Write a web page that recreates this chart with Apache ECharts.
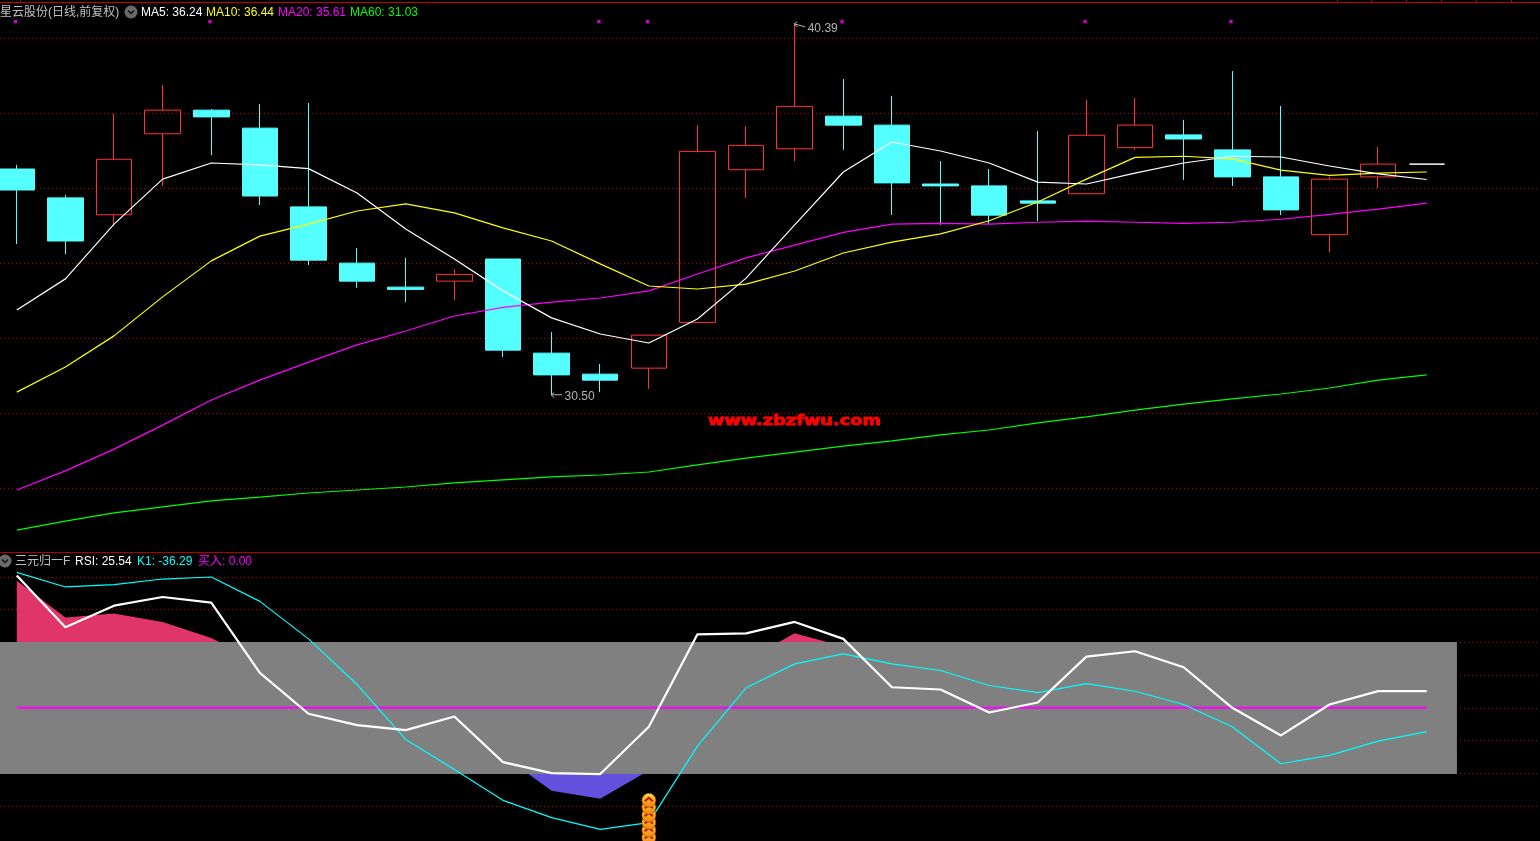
<!DOCTYPE html>
<html>
<head>
<meta charset="utf-8">
<title>星云股份</title>
<style>
  html, body { margin: 0; padding: 0; background: #000; overflow: hidden; }
  #chart { width: 1540px; height: 841px; }
</style>
<script src="https://cdn.jsdelivr.net/npm/echarts@6/dist/echarts.min.js"></script>
</head>
<body>
<div id="chart"></div>
<script>
// 日K: [open, close, low, high]
const kline = [
  [36.52, 35.96, 34.52, 36.63],
  [35.75, 34.60, 34.25, 35.83],
  [35.30, 36.78, 35.00, 37.99],
  [37.46, 38.09, 36.07, 38.76],
  [38.09, 37.91, 36.89, 38.12],
  [37.61, 35.80, 35.56, 38.25],
  [35.51, 34.09, 33.96, 38.28],
  [34.01, 33.53, 33.35, 34.41],
  [33.37, 33.31, 32.97, 34.15],
  [33.53, 33.71, 33.03, 33.85],
  [34.12, 31.69, 31.51, 34.12],
  [31.61, 31.03, 30.50, 32.17],
  [31.05, 30.89, 30.57, 31.32],
  [31.21, 32.09, 30.66, 32.09],
  [32.43, 36.99, 32.43, 37.69],
  [36.50, 37.15, 35.75, 37.67],
  [37.06, 38.19, 36.73, 40.39],
  [37.93, 37.69, 37.03, 38.92],
  [37.69, 36.15, 35.29, 38.47],
  [36.12, 36.07, 35.03, 36.73],
  [36.07, 35.29, 35.05, 36.52],
  [35.67, 35.61, 35.13, 37.53],
  [35.86, 37.42, 35.86, 38.36],
  [37.09, 37.69, 37.03, 38.41],
  [37.43, 37.32, 36.23, 37.83],
  [37.03, 36.31, 36.07, 39.13],
  [36.31, 35.43, 35.29, 38.20],
  [34.77, 36.25, 34.31, 36.31],
  [36.31, 36.65, 36.01, 37.11],
  [36.65, 36.65, 36.65, 36.65]
]
const ma5 = [32.76, 33.59, 35.05, 36.25, 36.68, 36.63, 36.53, 35.88, 34.92, 34.12, 33.27, 32.55, 32.12, 31.88, 32.52, 33.61, 35.03, 36.44, 37.24, 37.00, 36.68, 36.17, 36.12, 36.41, 36.68, 36.86, 36.84, 36.60, 36.39, 36.24]
const ma10 = [30.57, 31.24, 32.07, 33.11, 34.07, 34.73, 35.05, 35.40, 35.59, 35.35, 34.95, 34.60, 33.99, 33.40, 33.32, 33.45, 33.80, 34.28, 34.57, 34.79, 35.14, 35.64, 36.25, 36.83, 36.86, 36.79, 36.49, 36.35, 36.41, 36.44]
const ma20 = [27.96, 28.47, 29.05, 29.69, 30.36, 30.89, 31.37, 31.83, 32.20, 32.60, 32.83, 32.97, 33.08, 33.27, 33.72, 34.15, 34.49, 34.83, 35.05, 35.07, 35.05, 35.10, 35.13, 35.10, 35.07, 35.10, 35.18, 35.31, 35.45, 35.61]
const ma60 = [26.89, 27.13, 27.35, 27.51, 27.67, 27.77, 27.88, 27.96, 28.04, 28.15, 28.23, 28.31, 28.36, 28.44, 28.63, 28.81, 28.97, 29.13, 29.27, 29.43, 29.56, 29.75, 29.91, 30.09, 30.25, 30.39, 30.52, 30.68, 30.89, 31.03]

// 顶部信号点
const signalDays = [0, 4, 12, 13, 17, 22, 25]
const signalLevel = 40.45
// 最高/最低价标注: [day, price]
const priceNotes = [[16, 40.39], [11, 30.50]]

// 副图 三元归一
const rsi = [202.1, 122.9, 155.9, 169.2, 160.5, 53.4, -9.1, -26.5, -34.1, -13.3, -82.9, -99.7, -101.2, -29, 112.2, 113.7, 131.1, 105.2, 31.4, 27.9, -7.2, 8.1, 78.2, 86.3, 61.9, 0, -42.2, 5, 25.54, 25.54]
const k1 = [206.7, 184.5, 188, 196.6, 199.7, 162.5, 105.2, 35.5, -48.3, -94.1, -141.3, -167.7, -185.5, -175.3, -58.5, 30.5, 67.1, 82.3, 67.1, 56.9, 34, 23.3, 37, 25.3, 5, -29, -85.4, -72.7, -50.9, -36.29]
const buy = [0, 0, 0, 0, 0, 0, 0, 0, 0, 0, 0, 0, 0, 0, 0, 0, 0, 0, 0, 0, 0, 0, 0, 0, 0, 0, 0, 0, 0, 0]
const overbought = [194.1, 137.7, 143.8, 131.1, 106.7, 69, null, null, null, null, null, null, null, null, null, 72.6, 113.7, 93.4, null, null, null, null, null, null, null, null, null, null, null, null]
const oversold = [null, null, null, null, null, null, null, null, null, null, -72.7, -126.5, -138.7, -95.6, null, null, null, null, null, null, null, null, null, null, null, null, null, null, null, null]
const bandDays = [-0.345, 29.62]
const bandLevels = [100.6, -101]
// 买入图标叠在第 13 根
const coinDay = 13
const coinLevels = [-141.3, -152, -164, -175, -187, -198]

const header = [
  ['星云股份(日线,前复权)', 0, 12.5, '#c0c0c0'],
  ['MA5: 36.24', 141, 12.5, '#ffffff'],
  ['MA10: 36.44', 206, 12.5, '#ffff00'],
  ['MA20: 35.61', 278, 12.5, '#ff00ff'],
  ['MA60: 31.03', 350, 12.5, '#00ff00'],
  ['三元归一F', 15, 561.5, '#c0c0c0'],
  ['RSI: 25.54', 75, 561.5, '#ffffff'],
  ['K1: -36.29', 137, 561.5, '#00ffff'],
  ['买入: 0.00', 198, 561.5, '#ff00ff']
]
const topTicks = [20, 1337, 1371, 1406, 1441, 1476, 1511]

const FONT = '12px "Liberation Sans", "Noto Sans CJK SC", sans-serif'
const GRID_RED = '#c00000'

function withDay(values) {
  return values.map((v, i) => [i, v])
}

function line(name, values, color, xIdx, width, z) {
  return {
    name,
    type: 'line',
    xAxisIndex: xIdx,
    yAxisIndex: xIdx,
    data: withDay(values),
    symbol: 'none',
    z: z || 3,
    lineStyle: { color, width: width || 1.2 },
    silent: true
  }
}

function area(name, values, color, origin) {
  return {
    name,
    type: 'line',
    xAxisIndex: 1,
    yAxisIndex: 1,
    data: withDay(values),
    symbol: 'none',
    z: 2,
    lineStyle: { width: 0 },
    areaStyle: { color, opacity: 1, origin },
    silent: true
  }
}

function renderNote(params, api) {
  const p = api.coord([api.value(0), api.value(1)])
  const drop = params.dataIndex === 0 ? 3 : 0
  const x = p[0] - 0.5
  const y = p[1]
  const style = { stroke: '#b4b4b4', fill: 'none', lineWidth: 1 }
  return {
    type: 'group',
    children: [
      { type: 'polyline', shape: { points: [[x, y], [x + 11, y + drop]] }, style },
      { type: 'polyline', shape: { points: [[x + 3, y - 2], [x, y], [x + 3, y + 3]] }, style },
      {
        type: 'text',
        x: x + 13.5,
        y: y + drop + 1.5,
        style: {
          text: api.value(1).toFixed(2),
          fill: '#b4b4b4',
          font: FONT,
          textVerticalAlign: 'middle'
        }
      }
    ]
  }
}

function renderCoin(params, api) {
  const p = api.coord([api.value(0), api.value(1)])
  const cx = p[0]
  const cy = p[1]
  return {
    type: 'group',
    children: [
      {
        type: 'circle',
        shape: { cx, cy, r: 7 },
        style: {
          fill: {
            type: 'linear', x: 0, y: 0, x2: 0, y2: 1,
            colorStops: [
              { offset: 0, color: '#ffe24a' },
              { offset: 0.55, color: '#ffa51e' },
              { offset: 1, color: '#f07f10' }
            ]
          },
          stroke: '#7a4a00',
          lineWidth: 0.5
        }
      },
      {
        type: 'polyline',
        shape: { points: [[cx - 4, cy + 1], [cx, cy - 2.5], [cx + 4, cy + 1]] },
        style: { stroke: '#c01010', fill: 'none', lineWidth: 2 }
      }
    ]
  }
}

function headerGraphics() {
  const out = header.map(([text, x, y, color]) => ({
    type: 'text',
    x,
    y,
    z: 20,
    silent: true,
    style: { text, fill: color, font: FONT, textVerticalAlign: 'middle' }
  }))
  const chevrons = [[131, 12], [5, 561]]
  chevrons.forEach(([cx, cy]) => {
    out.push({
      type: 'circle',
      z: 20,
      silent: true,
      shape: { cx, cy, r: 6.5 },
      style: { fill: '#6a6a6a' }
    })
    out.push({
      type: 'polyline',
      z: 21,
      silent: true,
      shape: { points: [[cx - 3, cy - 1.5], [cx, cy + 1.5], [cx + 3, cy - 1.5]] },
      style: { stroke: '#111', fill: 'none', lineWidth: 1.5 }
    })
  })
  // 面板分隔线
  out.push({ type: 'rect', z: 20, silent: true, shape: { x: 0, y: 2, width: 1540, height: 1 }, style: { fill: '#c00000' } })
  out.push({ type: 'rect', z: 20, silent: true, shape: { x: 0, y: 552, width: 1540, height: 1 }, style: { fill: '#b00000' } })
  topTicks.forEach((x) => {
    out.push({ type: 'rect', z: 20, silent: true, shape: { x, y: 0, width: 1, height: 2 }, style: { fill: '#c00000' } })
  })
  out.push({
    type: 'text',
    x: 708,
    y: 421,
    scaleX: 1.268,
    z: 20,
    silent: true,
    style: {
      text: 'www.zbzfwu.com',
      fill: '#ff0000',
      stroke: '#ff0000',
      lineWidth: 0.8,
      font: 'bold 14px "DejaVu Sans", sans-serif',
      textVerticalAlign: 'middle'
    }
  })
  return out
}

const xRange = { min: -0.345, max: 31.329 }
const chart = echarts.init(document.getElementById('chart'))
chart.setOption({
  backgroundColor: '#000',
  animation: false,
  graphic: { elements: headerGraphics() },
  // 主图 75px 一格(2 元), 副图 32.75px 一格(50)
  grid: [
    { left: 0, width: 1540, top: 0, height: 563.5 },
    { left: 0, width: 1540, top: 544.05, height: 294.75 }
  ],
  xAxis: [
    { type: 'value', gridIndex: 0, show: false, splitLine: { show: false }, ...xRange },
    { type: 'value', gridIndex: 1, show: false, splitLine: { show: false }, ...xRange }
  ],
  yAxis: [0, 1].map((i) => ({
    type: 'value',
    gridIndex: i,
    min: i === 0 ? 26 : -200,
    max: i === 0 ? 41.0267 : 250,
    interval: i === 0 ? 2 : 50,
    axisLine: { show: false },
    axisTick: { show: false },
    axisLabel: { show: false },
    splitLine: {
      show: true,
      showMinLine: false,
      showMaxLine: false,
      lineStyle: { color: GRID_RED, width: 1, type: [1, 3] }
    }
  })),
  series: [
    {
      name: 'K',
      type: 'candlestick',
      xAxisIndex: 0,
      yAxisIndex: 0,
      barWidth: 36,
      clip: false,
      encode: { x: 0, y: [1, 2, 3, 4] },
      data: kline.map((d, i) => [i, ...d]),
      z: 2,
      silent: true,
      itemStyle: {
        color: 'rgba(0,0,0,0)',
        color0: '#54ffff',
        borderColor: '#ff3232',
        borderColor0: '#54ffff',
        borderColorDoji: '#ffffff',
        borderWidth: 1
      }
    },
    line('MA60', ma60, '#00ff00', 0),
    line('MA20', ma20, '#ff00ff', 0),
    line('MA10', ma10, '#ffff00', 0),
    line('MA5', ma5, '#ffffff', 0),
    {
      name: 'signal',
      type: 'scatter',
      xAxisIndex: 0,
      yAxisIndex: 0,
      symbol: 'rect',
      symbolSize: 3.4,
      symbolOffset: [-1.3, 0],
      z: 4,
      silent: true,
      itemStyle: { color: '#ff00ff' },
      data: signalDays.map((d) => [d, signalLevel])
    },
    {
      name: 'notes',
      type: 'custom',
      xAxisIndex: 0,
      yAxisIndex: 0,
      clip: false,
      z: 5,
      silent: true,
      renderItem: renderNote,
      data: priceNotes
    },
    area('overbought', overbought, '#e03568', 100),
    area('oversold', oversold, '#6350dc', -100),
    {
      name: 'band',
      type: 'line',
      xAxisIndex: 1,
      yAxisIndex: 1,
      symbol: 'none',
      z: 3,
      silent: true,
      lineStyle: { width: 0 },
      areaStyle: { color: '#808080', opacity: 1, origin: bandLevels[1] },
      data: bandDays.map((d) => [d, bandLevels[0]])
    },
    line('买入', buy, '#ff00ff', 1, 2, 4),
    line('K1', k1, '#00ffff', 1, 1.2, 4),
    line('RSI', rsi, '#ffffff', 1, 2.2, 4),
    {
      name: 'coins',
      type: 'custom',
      xAxisIndex: 1,
      yAxisIndex: 1,
      clip: false,
      z: 6,
      silent: true,
      renderItem: renderCoin,
      // 倒序画, 上面的压住下面的
      data: coinLevels.slice().reverse().map((v) => [coinDay, v])
    }
  ]
})
</script>
</body>
</html>
